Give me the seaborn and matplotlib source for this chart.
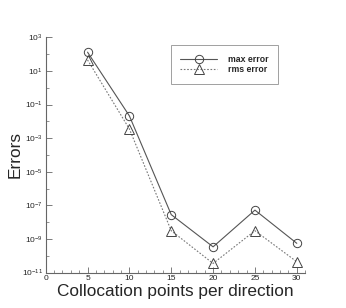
import matplotlib
matplotlib.use("Agg")
import matplotlib.pyplot as plt
import matplotlib.ticker as mticker
import seaborn as sns
import pandas as pd

points = [5, 10, 15, 20, 25, 30]
max_error = [1.3e2, 2.1e-2, 2.8e-8, 3.4e-10, 5.2e-8, 5.5e-10]
rms_error = [4.5e1, 3.5e-3, 3.1e-9, 3.5e-11, 3.1e-9, 4.4e-11]

sns.set_theme(style="white")
plt.rcParams['font.family'] = ['Liberation Sans', 'DejaVu Sans']
plt.rcParams['mathtext.fontset'] = 'custom'
plt.rcParams['mathtext.rm'] = 'Liberation Sans'
plt.rcParams['mathtext.it'] = 'Liberation Sans'

fig = plt.figure(figsize=(3.46, 3.08), dpi=100)
ax = fig.add_axes([0.132, 0.115, 0.75, 0.764])

df = pd.DataFrame({"x": points, "max": max_error, "rms": rms_error})
sns.lineplot(data=df, x="x", y="max", ax=ax, color="#555555", lw=0.8,
             marker="o", markersize=6, markerfacecolor="none",
             markeredgecolor="#444444", markeredgewidth=0.7, label="max error")
sns.lineplot(data=df, x="x", y="rms", ax=ax, color="#777777", lw=0.8,
             linestyle=(0, (1.5, 1.5)),
             marker="^", markersize=6.5, markerfacecolor="none",
             markeredgecolor="#444444", markeredgewidth=0.7, label="rms error")

ax.set_yscale("log")
ax.set_ylim(1e-11, 1e3)
ax.set_xlim(0, 31)
ax.yaxis.set_major_locator(mticker.FixedLocator([10.0**k for k in range(-11, 4, 2)]))
ax.yaxis.set_minor_locator(mticker.FixedLocator([10.0**k for k in range(-10, 3, 2)]))
ax.yaxis.set_minor_formatter(mticker.NullFormatter())
ax.yaxis.set_major_formatter(mticker.LogFormatterMathtext())
ax.xaxis.set_major_locator(mticker.MultipleLocator(5))
ax.xaxis.set_minor_locator(mticker.MultipleLocator(1))

for s in ["top", "right"]:
    ax.spines[s].set_visible(False)
for s in ["left", "bottom"]:
    ax.spines[s].set_color("#666666")
    ax.spines[s].set_linewidth(0.8)

ax.tick_params(which="major", direction="in", length=4, width=0.6, color="#666666",
               labelsize=6, pad=2, bottom=True, left=True)
ax.tick_params(which="minor", direction="in", length=2, width=0.5, color="#666666",
               bottom=True, left=True)

ax.set_xlabel("Collocation points per direction", fontsize=12.4, labelpad=1)
ax.set_ylabel("Errors", fontsize=12.4)
ax.yaxis.set_label_coords(-0.088, 0.5)

leg = ax.legend(loc="upper left", bbox_to_anchor=(0.465, 0.985), frameon=True,
                fancybox=False, edgecolor="#888888", handlelength=4.2,
                borderpad=1.1, labelspacing=0.15, handletextpad=1.2,
                prop={"size": 6.3, "weight": "bold"})
leg.get_frame().set_linewidth(0.7)

fig.savefig("out.png", dpi=100)
